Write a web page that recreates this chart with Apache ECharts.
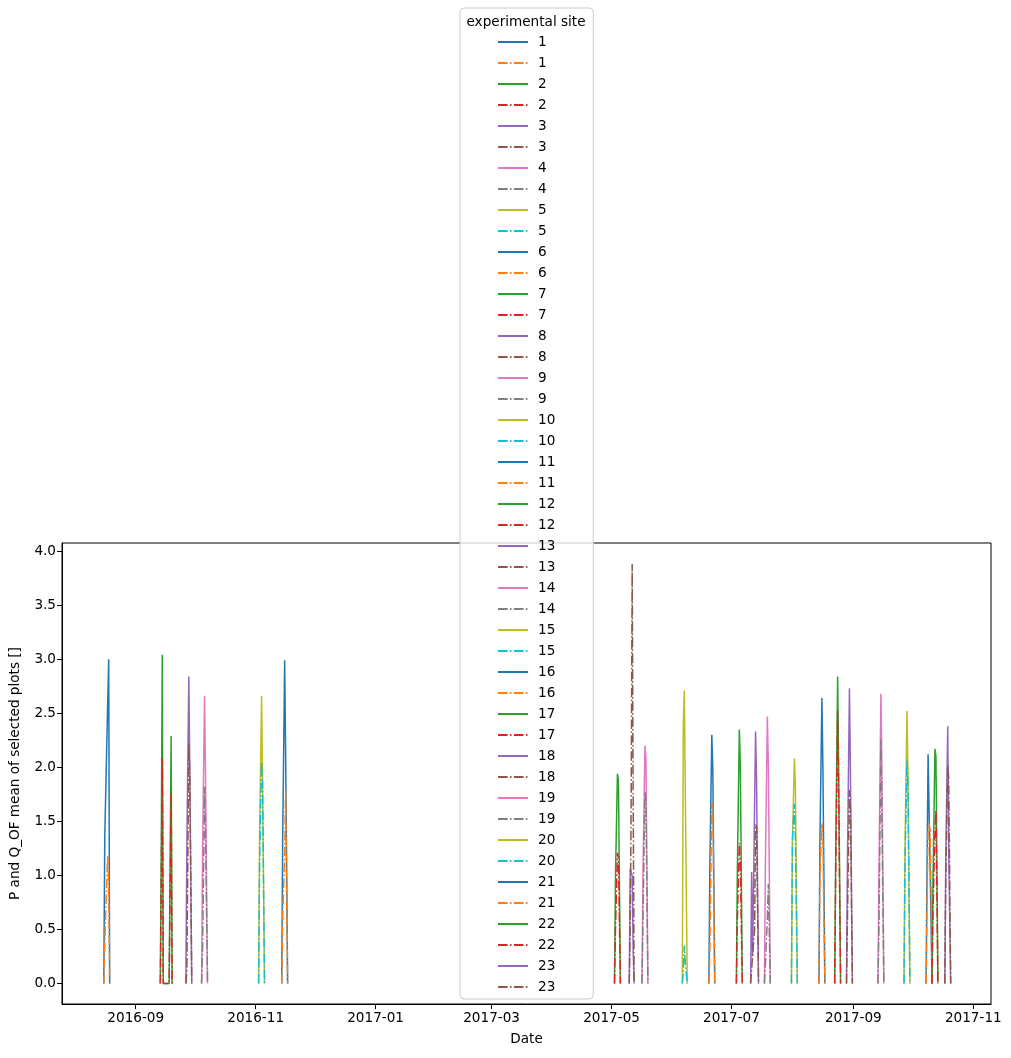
<!DOCTYPE html>
<html>
<head>
<meta charset="utf-8">
<script src="https://cdn.jsdelivr.net/npm/echarts@6/dist/echarts.min.js"></script>
<style>
  html, body { margin: 0; padding: 0; background: #fff; }
  #chart { width: 1011px; height: 1058px; }
</style>
</head>
<body>
<div id="chart"></div>
<script>
// one rain event per site, sampled every 12 hours from eventStart
var sites = ['1','2','3','4','5','6','7','8','9','10','11','12','13','14','15','16','17','18','19','20','21','22','23'];
var eventStart = [
  '2016-08-15T18:00:00Z', '2016-09-13T12:00:00Z', '2016-09-26T12:00:00Z', '2016-10-04T12:00:00Z',
  '2016-11-02T12:00:00Z', '2016-11-14T06:00:00Z', '2017-05-02T12:00:00Z', '2017-05-10T00:00:00Z',
  '2017-05-16T12:00:00Z', '2017-06-06T00:00:00Z', '2017-06-19T12:00:00Z', '2017-07-03T12:00:00Z',
  '2017-07-10T18:00:00Z', '2017-07-17T18:00:00Z', '2017-07-31T12:00:00Z', '2017-08-14T12:00:00Z',
  '2017-08-22T12:00:00Z', '2017-08-28T12:00:00Z', '2017-09-13T12:00:00Z', '2017-09-26T18:00:00Z',
  '2017-10-08T00:00:00Z', '2017-10-11T00:00:00Z', '2017-10-17T12:00:00Z'
];
var stepHours = 12;

// P (solid lines)
var pValues = [
  [0, 1.35, 1.35, 2.2, 2.2, 3.0, 0],
  [0, 1.33, 3.04, 0, 0, 0, 0, 0, 0, 0, 0, 2.29, 0],
  [0, 1.27, 1.27, 2.84, 1.96, 1.96, 0],
  [0, 1.23, 1.23, 2.66, 1.93, 1.93, 0],
  [0, 1.4, 1.4, 2.66, 1.86, 1.86, 0],
  [0, 1.36, 1.36, 2.99, 2.12, 2.12, 0],
  [0, 0.99, 0.99, 1.94, 1.88, 1.88, 0],
  [0, 1.06, 1.06, 1.0, 0.3, 0],
  [0, 1.04, 1.04, 2.2, 2.09, 2.09, 0],
  [0, 2.4, 2.71, 1.83, 1.83, 0],
  [0, 1.07, 1.07, 2.3, 1.99, 1.99, 0],
  [0, 1.07, 1.07, 2.35, 2.03, 2.03, 0],
  [0, 1.03, 0.25, 0.25, 0.25, 2.33, 1.9, 1.9, 0],
  [0, 1.1, 1.1, 2.47, 2.03, 2.03, 0],
  [0, 1.3, 1.3, 2.08, 1.84, 1.84, 0],
  [0, 1.33, 1.33, 2.64, 2.01, 2.01, 0],
  [0, 1.15, 1.15, 2.84, 2.0, 2.0, 0],
  [0, 1.16, 1.16, 2.73, 1.98, 1.98, 0],
  [0, 1.0, 1.0, 2.68, 2.01, 2.01, 0],
  [0, 1.23, 1.23, 2.52, 1.96, 1.96, 0],
  [0, 1.15, 2.12, 2.11, 2.11, 0.6, 0],
  [0, 0.96, 0.96, 2.17, 2.1, 2.1, 0],
  [0, 1.17, 1.17, 2.38, 1.2, 1.2, 0]
];

// Q_OF (dash-dot lines)
var qValues = [
  [0, 0.35, 0.68, 0.68, 1.18, 0.95, 0],
  [0, 0.9, 2.08, 0, 0, 0, 0, 0, 0, 0, 0, 1.78, 0],
  [0, 0.12, 0.12, 2.21, 1.95, 1.95, 0],
  [0, 0.3, 0.3, 1.82, 1.4, 1.4, 0],
  [0, 1.13, 1.13, 2.05, 1.85, 1.85, 0],
  [0, 0.62, 0.62, 1.2, 1.78, 1.78, 0],
  [0, 0.5, 0.5, 1.21, 1.16, 1.16, 0],
  [0, 0.5, 1.73, 3.88, 1.73, 0],
  [0, 0.6, 0.6, 1.77, 1.7, 1.7, 0],
  [0, 0.1, 0.35, 0.2, 0.2, 0],
  [0, 0.3, 0.3, 1.67, 1.64, 1.64, 0],
  [0, 0.6, 0.6, 1.3, 1.1, 1.1, 0],
  [0, 0, 0.26, 0.26, 0.5, 1.47, 1.45, 1.45, 0],
  [0, 0.17, 0.17, 0.6, 0.92, 0.92, 0],
  [0, 1.33, 1.33, 1.66, 1.33, 1.33, 0],
  [0, 1.0, 1.0, 1.48, 1.3, 1.3, 0],
  [0, 1.0, 1.0, 2.52, 1.71, 1.71, 0],
  [0, 0.6, 0.6, 1.79, 1.6, 1.6, 0],
  [0, 0.5, 0.5, 2.26, 1.55, 1.55, 0],
  [0, 1.1, 1.1, 2.06, 1.86, 1.86, 0],
  [0, 0.8, 1.42, 1.48, 1.42, 0.9, 0],
  [0, 0.67, 0.67, 1.41, 1.6, 1.6, 0],
  [0, 0.94, 0.94, 2.02, 1.9, 1.9, 0]
];

var xTicks = ['2016-09-01', '2016-11-01', '2017-01-01', '2017-03-01', '2017-05-01', '2017-07-01', '2017-09-01', '2017-11-01'];
var yTicks = [0, 0.5, 1.0, 1.5, 2.0, 2.5, 3.0, 3.5, 4.0];

var tab10 = ['#1f77b4', '#ff7f0e', '#2ca02c', '#d62728', '#9467bd', '#8c564b', '#e377c2', '#7f7f7f', '#bcbd22', '#17becf'];
var FONT = 'DejaVu Sans';

function toSeriesData(start, vals) {
  var t0 = Date.parse(start);
  return vals.map(function (v, k) { return [t0 + k * stepHours * 3600000, v]; });
}

var xTickTimes = xTicks.map(function (d) { return Date.parse(d + 'T00:00:00Z'); });

var series = [];
var names = [];
sites.forEach(function (s, i) {
  [pValues[i], qValues[i]].forEach(function (vals, j) {
    var idx = i * 2 + j;
    var name = (j === 0 ? 'P_' : 'Q_') + s;
    names.push(name);
    series.push({
      name: name,
      type: 'line',
      data: toSeriesData(eventStart[i], vals),
      symbol: 'none',
      showSymbol: false,
      silent: true,
      color: tab10[idx % 10],
      lineStyle: {
        width: 1.5,
        color: tab10[idx % 10],
        type: j === 0 ? 'solid' : [9.6, 2.4, 1.5, 2.4]
      }
    });
  });
});

var myChart = echarts.init(document.getElementById('chart'));

var option = {
  animation: false,
  backgroundColor: '#fff',
  textStyle: { fontFamily: FONT },
  grid: {
    left: 62, right: 20, top: 543, bottom: 54,
    show: true, borderColor: '#000', borderWidth: 1
  },
  xAxis: {
    // dates as epoch ms on a value axis so the ticks can sit on month starts
    type: 'value',
    min: Date.parse('2016-07-25T12:00:00Z'),
    max: Date.parse('2017-11-10T00:00:00Z'),
    name: 'Date',
    nameLocation: 'middle',
    nameGap: 28,
    nameTextStyle: { fontSize: 13.6, color: '#000', fontFamily: FONT },
    axisLine: { show: true, onZero: false, lineStyle: { color: '#000', width: 1 } },
    axisTick: { show: true, length: 5, lineStyle: { color: '#000' }, customValues: xTickTimes },
    axisLabel: {
      fontSize: 13.6, color: '#000', fontFamily: FONT, margin: 7,
      customValues: xTickTimes,
      formatter: function (v) {
        var d = new Date(v);
        var m = d.getUTCMonth() + 1;
        return d.getUTCFullYear() + '-' + (m < 10 ? '0' + m : m);
      }
    },
    splitLine: { show: false }
  },
  yAxis: {
    type: 'value',
    min: -0.19,
    max: 4.075,
    name: 'P and Q_OF mean of selected plots []',
    nameLocation: 'middle',
    nameGap: 40,
    nameTextStyle: { fontSize: 13.6, color: '#000', fontFamily: FONT },
    axisLine: { show: true, onZero: false, lineStyle: { color: '#000', width: 1 } },
    axisTick: { show: true, length: 5, lineStyle: { color: '#000' }, customValues: yTicks },
    axisLabel: {
      fontSize: 13.6, color: '#000', fontFamily: FONT, margin: 6,
      customValues: yTicks,
      formatter: function (v) { return Number(v).toFixed(1); }
    },
    splitLine: { show: false }
  },
  legend: {
    orient: 'vertical',
    left: 460,
    top: 8,
    padding: [27, 38, 5, 37],
    itemWidth: 30,
    itemHeight: 14,
    itemGap: 7,
    backgroundColor: 'rgba(255,255,255,0.8)',
    borderColor: '#cccccc',
    borderWidth: 1,
    borderRadius: 4,
    selectedMode: false,
    itemStyle: { opacity: 0 },
    lineStyle: { width: 2 },
    textStyle: { fontSize: 13.6, color: '#000', fontFamily: FONT, padding: [0, 0, 0, 5] },
    formatter: function (n) { return n.split('_')[1]; },
    data: names
  },
  graphic: [{
    type: 'text',
    x: 526,
    y: 22,
    z: 100,
    style: {
      text: 'experimental site',
      font: '13.6px "DejaVu Sans"',
      fill: '#000',
      align: 'center',
      verticalAlign: 'middle',
      textAlign: 'center',
      textVerticalAlign: 'middle'
    }
  }],
  series: series
};

myChart.setOption(option);
</script>
</body>
</html>
